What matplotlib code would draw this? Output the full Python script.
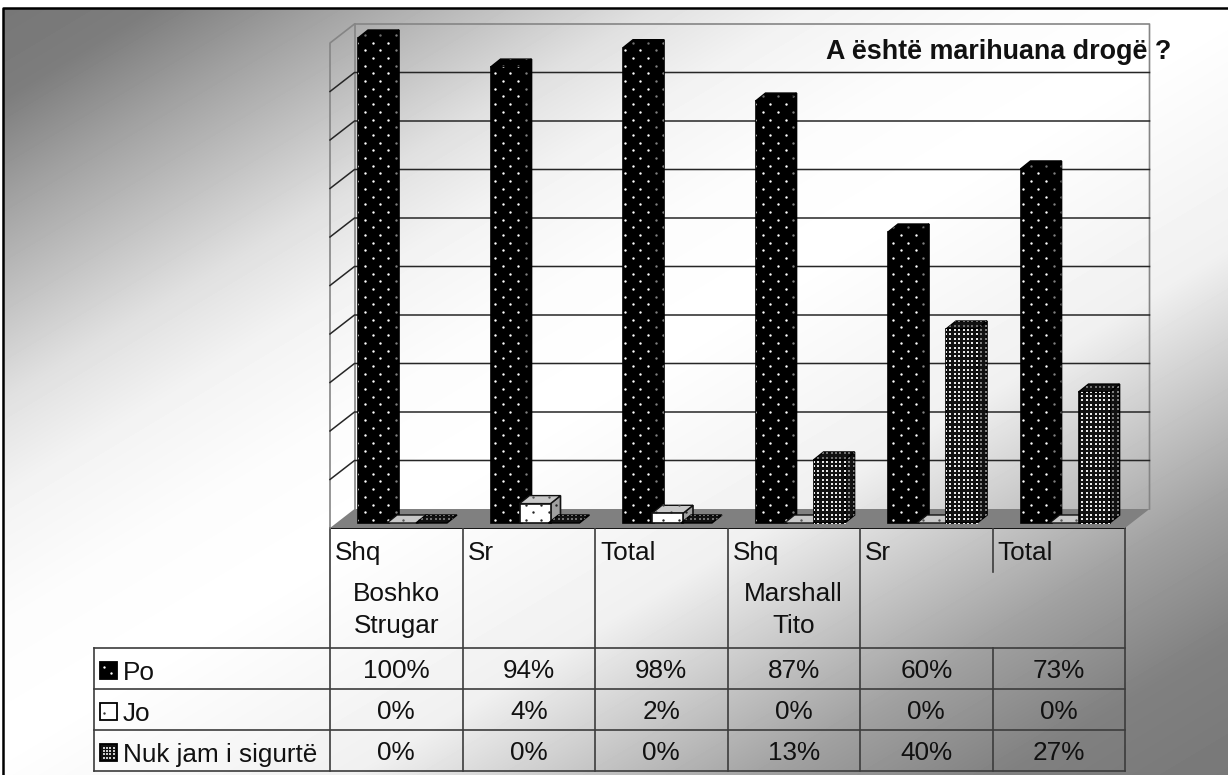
import numpy as np
import matplotlib
matplotlib.use('Agg')
import matplotlib.pyplot as plt
from matplotlib.patches import Rectangle

plt.rcParams['font.family'] = ['Liberation Sans', 'DejaVu Sans']

# data
categories = ['Shq', 'Sr', 'Total', 'Shq', 'Sr', 'Total']
schools = ['Boshko\nStrugar', 'Marshall\nTito']
series_names = ['Po', 'Jo', 'Nuk jam i sigurtë']
po = [100, 94, 98, 87, 60, 73]
jo = [0, 4, 2, 0, 0, 0]
nuk = [0, 0, 0, 13, 40, 27]
title = 'A është marihuana drogë ?'

W, H = 1228, 775
LEFT, RIGHT, BOTTOM, TOP = 330, 1125, 528, 43
PX_X = (RIGHT - LEFT) / 6.0    # pixels per category
PX_Y = (BOTTOM - TOP) / 100.0  # pixels per percent
WALL_X, WALL_Y = 24.5 / PX_X, 19 / PX_Y
BAR_X, BAR_Y = 10 / PX_X, 8 / PX_Y
BAR_W = 31 / PX_X
BAR_STEP = 29 / PX_X
BAR_START = 28 / PX_X
BAR_BASE = 5 / PX_Y

fig = plt.figure(figsize=(W / 100, H / 100), dpi=100, facecolor='white')

# pixel axes: background gradient, table, title
bg = fig.add_axes([0, 0, 1, 1])
yy, xx = np.mgrid[8:H, 3:W]
u = 0.6 * xx + yy
grad = np.interp(u, [0, 100, 200, 300, 400, 500, 620, 750, 987, 1137, 1237, 1377, 1512],
                 [118, 125, 160, 192, 224, 243, 252, 255, 240, 192, 160, 128, 120])
bg.imshow(grad, cmap='gray', vmin=0, vmax=255, extent=(3, W, H, 8), aspect='auto')
bg.set_xlim(0, W)
bg.set_ylim(H, 0)
bg.axis('off')
bg.plot([3, 3, W], [H, 8, 8], color='black', lw=1.8)

# main axes: front plane of the 3d box
ax = fig.add_axes([LEFT / W, 1 - BOTTOM / H, (RIGHT - LEFT) / W, (BOTTOM - TOP) / H])
ax.patch.set_alpha(0)
ax.axis('off')
ax.set_xlim(0, 6)
ax.set_ylim(0, 100)
ax.set_autoscale_on(False)


def dots(patch, kind, color, z):
    # lattice of dots in figure pixels, clipped to the face
    ext = patch.get_window_extent()
    x0, x1 = ext.x0 - 16, ext.x1 + 16
    y0, y1 = H - ext.y1 - 16, H - ext.y0 + 16
    if kind == 'sparse':
        dx, dy, ms, mk = 15.3, 7.7, 3.0, 'o'
        rows = np.arange(np.floor(y0 / dy), np.ceil(y1 / dy))
        px, py = [], []
        for r in rows:
            off = 365 % dx + (dx / 2 if int(r) % 2 else 0)
            col = np.arange(np.floor(x0 / dx) * dx + off, x1, dx)
            px.extend(col)
            py.extend([r * dy + 4] * len(col))
    else:
        dx, dy, ms, mk = 4.4, 4.4, 1.6, 's'
        gx, gy = np.meshgrid(np.arange(np.floor(x0 / dx) * dx, x1, dx),
                             np.arange(np.floor(y0 / dy) * dy, y1, dy))
        px, py = gx.ravel(), gy.ravel()
    pts = ax.scatter(px, py, s=ms, marker=mk, color=color, linewidths=0,
                     transform=bg.transData, zorder=z)
    pts.set_clip_path(patch)


def bar3d(x, val, front, side, top, edge, kind, front_dot, side_dot, top_dot, z):
    y0 = BAR_BASE
    y1 = BAR_BASE + val
    if val > 0:
        s = ax.fill([x + BAR_W, x + BAR_W + BAR_X, x + BAR_W + BAR_X, x + BAR_W],
                    [y0, y0 + BAR_Y, y1 + BAR_Y, y1],
                    facecolor=side, edgecolor=edge, lw=1.2, zorder=z, clip_on=False)[0]
        dots(s, kind, side_dot, z + 0.1)
    tp = ax.fill([x, x + BAR_X, x + BAR_W + BAR_X, x + BAR_W],
                 [y1, y1 + BAR_Y, y1 + BAR_Y, y1],
                 facecolor=top, edgecolor=edge, lw=1.0, zorder=z + 0.2, clip_on=False)[0]
    dots(tp, kind, top_dot, z + 0.3)
    if val > 0:
        fr = ax.bar(x, val, BAR_W, bottom=y0, align='edge', color=front,
                    edgecolor=edge, lw=1.2, zorder=z + 0.4, clip_on=False)[0]
        dots(fr, kind, front_dot, z + 0.5)


# walls and floor
ax.fill([0, WALL_X, 6 + WALL_X, 6], [0, WALL_Y, WALL_Y, 0], color='#808080', lw=0, zorder=1, clip_on=False)
ax.plot([0, 0, WALL_X, 6 + WALL_X, 6 + WALL_X],
        [0, 100, 100 + WALL_Y, 100 + WALL_Y, WALL_Y], color='#858585', lw=1.2, zorder=1.5, clip_on=False)
ax.plot([WALL_X, WALL_X], [WALL_Y, 100 + WALL_Y], color='#858585', lw=1.2, zorder=1.5, clip_on=False)
for g in range(10, 100, 10):
    ax.plot([0, WALL_X, 6 + WALL_X], [g, g + WALL_Y, g + WALL_Y], color='#262626', lw=1.1, zorder=1.6, clip_on=False)

# bars, left to right so that each one covers the side of the one before
for i in range(6):
    x = i + BAR_START
    bar3d(x, po[i], 'black', 'black', 'black', 'black', 'sparse', 'white', '#808080', '#707070', 10 + i * 3)
    bar3d(x + BAR_STEP, jo[i], 'white', '#a0a0a0', '#c8c8c8', '#111111', 'sparse', '#222222', '#222222', '#555555', 11 + i * 3)
    bar3d(x + 2 * BAR_STEP, nuk[i], '#111111', '#111111', '#111111', 'black', 'mesh', '#e8e8e8', '#808080', '#707070', 12 + i * 3)

# table
col_x = [LEFT + PX_X * i for i in range(7)]
row_y = [648, 689, 730, 771]
line = dict(color='#3c3c3c', lw=1.2, zorder=3)
bg.plot([LEFT, RIGHT], [528, 528], color='#111111', lw=1.4, zorder=3)
for y in row_y:
    bg.plot([93.5, RIGHT], [y, y], **line)
bg.plot([93.5, 93.5], [648, 771], **line)
for i, x in enumerate(col_x):
    if i == 5:
        bg.plot([x, x], [528, 572], **line)
        bg.plot([x, x], [648, 771], **line)
    else:
        bg.plot([x, x], [528, 771], **line)

fs = 18.8
for i, name in enumerate(categories):
    bg.text(col_x[i] + 5, 553, name, fontsize=fs, va='center', ha='left', color='#111111')
for k, name in enumerate(schools):
    a, b = name.split('\n')
    cx = (col_x[k * 3] + col_x[k * 3 + 1]) / 2
    bg.text(cx, 594, a, fontsize=fs, va='center', ha='center', color='#111111')
    bg.text(cx, 626, b, fontsize=fs, va='center', ha='center', color='#111111')

for vals, y in zip([po, jo, nuk], [671, 712, 753]):
    for i, v in enumerate(vals):
        bg.text((col_x[i] + col_x[i + 1]) / 2, y, f'{v}%', fontsize=fs, va='center', ha='center', color='#111111')

# legend keys inside the table
key_y = [662, 703, 744]
key_face = ['black', 'white', '#111111']
for name, ky, face in zip(series_names, key_y, key_face):
    bg.add_patch(Rectangle((99.5, ky), 17, 17, facecolor=face, edgecolor='black', lw=1.3, zorder=4))
    bg.text(123, ky + 11, name, fontsize=fs, va='center', ha='left', color='#111111', zorder=4)
bg.scatter([104, 111], [667, 673], s=3, color='white', linewidths=0, zorder=5)
bg.scatter([104], [713], s=3, color='#333333', linewidths=0, zorder=5)
gx, gy = np.meshgrid(np.arange(104, 114, 3.2), np.arange(748, 759, 3.2))
bg.scatter(gx.ravel(), gy.ravel(), s=2, marker='s', color='#cccccc', linewidths=0, zorder=5)

# title goes over the chart, so put it in the top axes
ax.text(826, 52, title, fontsize=19.4, fontweight='bold', va='center', ha='left',
        color='#111111', transform=bg.transData, zorder=100, clip_on=False)

fig.savefig('out.png', dpi=100)
